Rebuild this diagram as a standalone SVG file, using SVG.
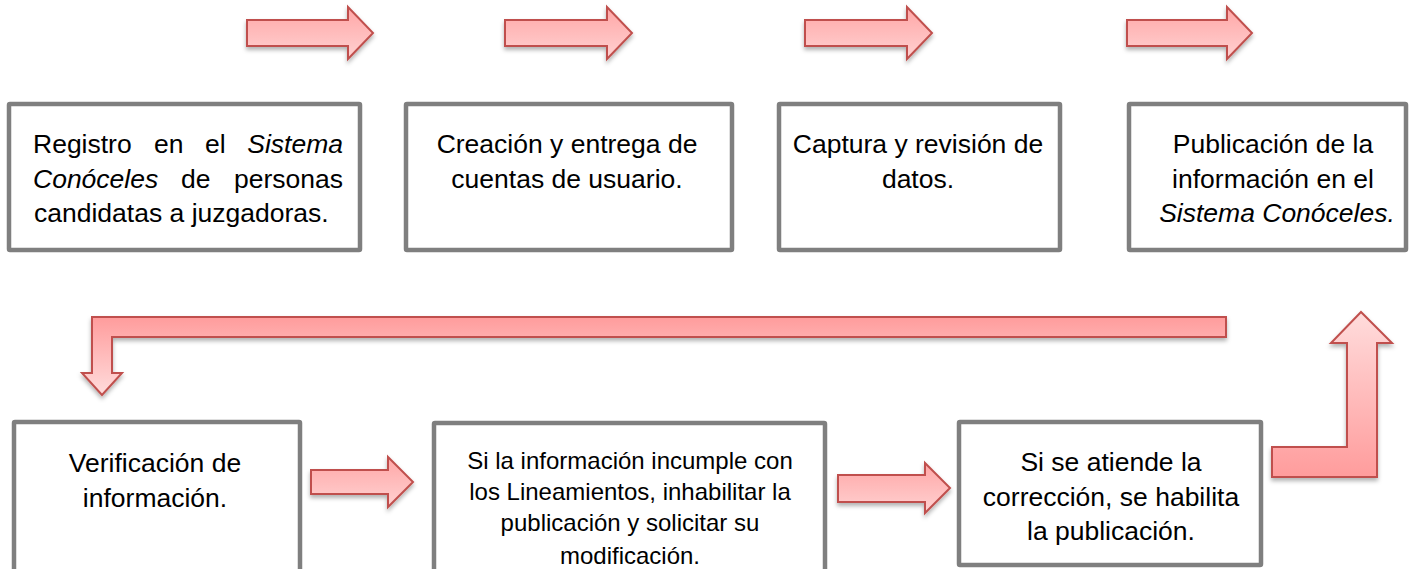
<svg xmlns="http://www.w3.org/2000/svg" width="1418" height="569" viewBox="0 0 1418 569">
<defs>
<linearGradient id="gDown" x1="0" y1="0" x2="0" y2="1">
<stop offset="0" stop-color="#ff9c9c"/>
<stop offset="1" stop-color="#ffdcdc"/>
</linearGradient>
<linearGradient id="gUp" x1="0" y1="1" x2="0" y2="0">
<stop offset="0" stop-color="#ff9c9c"/>
<stop offset="1" stop-color="#ffdcdc"/>
</linearGradient>
<linearGradient id="gRight" x1="0" y1="0" x2="0" y2="1">
<stop offset="0" stop-color="#ffa6a6"/>
<stop offset="1" stop-color="#ffd2d2"/>
</linearGradient>
<filter id="sh" x="-10%" y="-20%" width="120%" height="160%">
<feDropShadow dx="0" dy="3" stdDeviation="2" flood-color="#000" flood-opacity="0.3"/>
</filter>
</defs>
<style>
.box{fill:#fff;stroke:#7f7f7f;stroke-width:4.5}
.arr{stroke:#c0504d;stroke-width:2;stroke-linejoin:miter;filter:url(#sh)}
.t{font-family:"Liberation Sans",Arial,sans-serif;font-size:26.5px;fill:#000}
.s{font-family:"Liberation Sans",Arial,sans-serif;font-size:24px;fill:#000}
.c{text-anchor:middle}
.i{font-style:italic}
</style>
<g id="connectors">
<polygon class="arr" fill="url(#gRight)" points="247,20 348,20 348,7 373,33 348,59 348,46 247,46"/>
<polygon class="arr" fill="url(#gRight)" points="505,20 607,20 607,7 632,33 607,59 607,46 505,46"/>
<polygon class="arr" fill="url(#gRight)" points="805,20 907,20 907,7 932,33 907,59 907,46 805,46"/>
<polygon class="arr" fill="url(#gRight)" points="1127,20 1227,20 1227,7 1252,33 1227,59 1227,46 1127,46"/>
<polygon class="arr" fill="url(#gDown)" points="1226,317 92,317 92,373 82,373 102,395 122,373 112,373 112,337 1226,337"/>
<polygon class="arr" fill="url(#gRight)" points="311,470 388,470 388,457 413,482 388,507 388,494 311,494"/>
<polygon class="arr" fill="url(#gRight)" points="838,475 925,475 925,463 950,488 925,513 925,502 838,502"/>
<polygon class="arr" fill="url(#gUp)" points="1272,447 1347,447 1347,343 1331,343 1361,312 1392,343 1377,343 1377,477 1272,477"/>
</g>
<g id="n1">
<rect class="box" x="9" y="104" width="351" height="146" rx="1"/>
<text class="t" y="153"><tspan x="33">Registro</tspan><tspan x="154">en</tspan><tspan x="205">el</tspan><tspan x="343" text-anchor="end" class="i">Sistema</tspan></text>
<text class="t" y="188"><tspan x="33" class="i">Conóceles</tspan><tspan x="181">de</tspan><tspan x="343" text-anchor="end">personas</tspan></text>
<text class="t" x="34" y="222">candidatas a juzgadoras.</text>
</g>
<g id="n2">
<rect class="box" x="406" y="104" width="326" height="146" rx="1"/>
<text class="t c" x="567" y="153">Creación y entrega de</text>
<text class="t c" x="567" y="188">cuentas de usuario.</text>
</g>
<g id="n3">
<rect class="box" x="779" y="104" width="281" height="146" rx="1"/>
<text class="t c" x="918" y="153">Captura y revisión de</text>
<text class="t c" x="918" y="188">datos.</text>
</g>
<g id="n4">
<rect class="box" x="1129" y="104" width="277" height="146" rx="1"/>
<text class="t c" x="1273" y="153">Publicación de la</text>
<text class="t c" x="1273" y="188">información en el</text>
<text class="t c i" x="1277" y="222">Sistema Conóceles.</text>
</g>
<g id="n5">
<rect class="box" x="14" y="422" width="286" height="150" rx="1"/>
<text class="t c" x="155" y="472">Verificación de</text>
<text class="t c" x="155" y="507">información.</text>
</g>
<g id="n6">
<rect class="box" x="434" y="423" width="391" height="150" rx="1"/>
<text class="s c" x="630" y="469">Si la información incumple con</text>
<text class="s c" x="630" y="500">los Lineamientos, inhabilitar la</text>
<text class="s c" x="630" y="531">publicación y solicitar su</text>
<text class="s c" x="630" y="564">modificación.</text>
</g>
<g id="n7">
<rect class="box" x="959" y="422" width="302" height="143" rx="1"/>
<text class="t c" x="1111" y="471">Si se atiende la</text>
<text class="t c" x="1111" y="506">corrección, se habilita</text>
<text class="t c" x="1111" y="540">la publicación.</text>
</g>
</svg>
